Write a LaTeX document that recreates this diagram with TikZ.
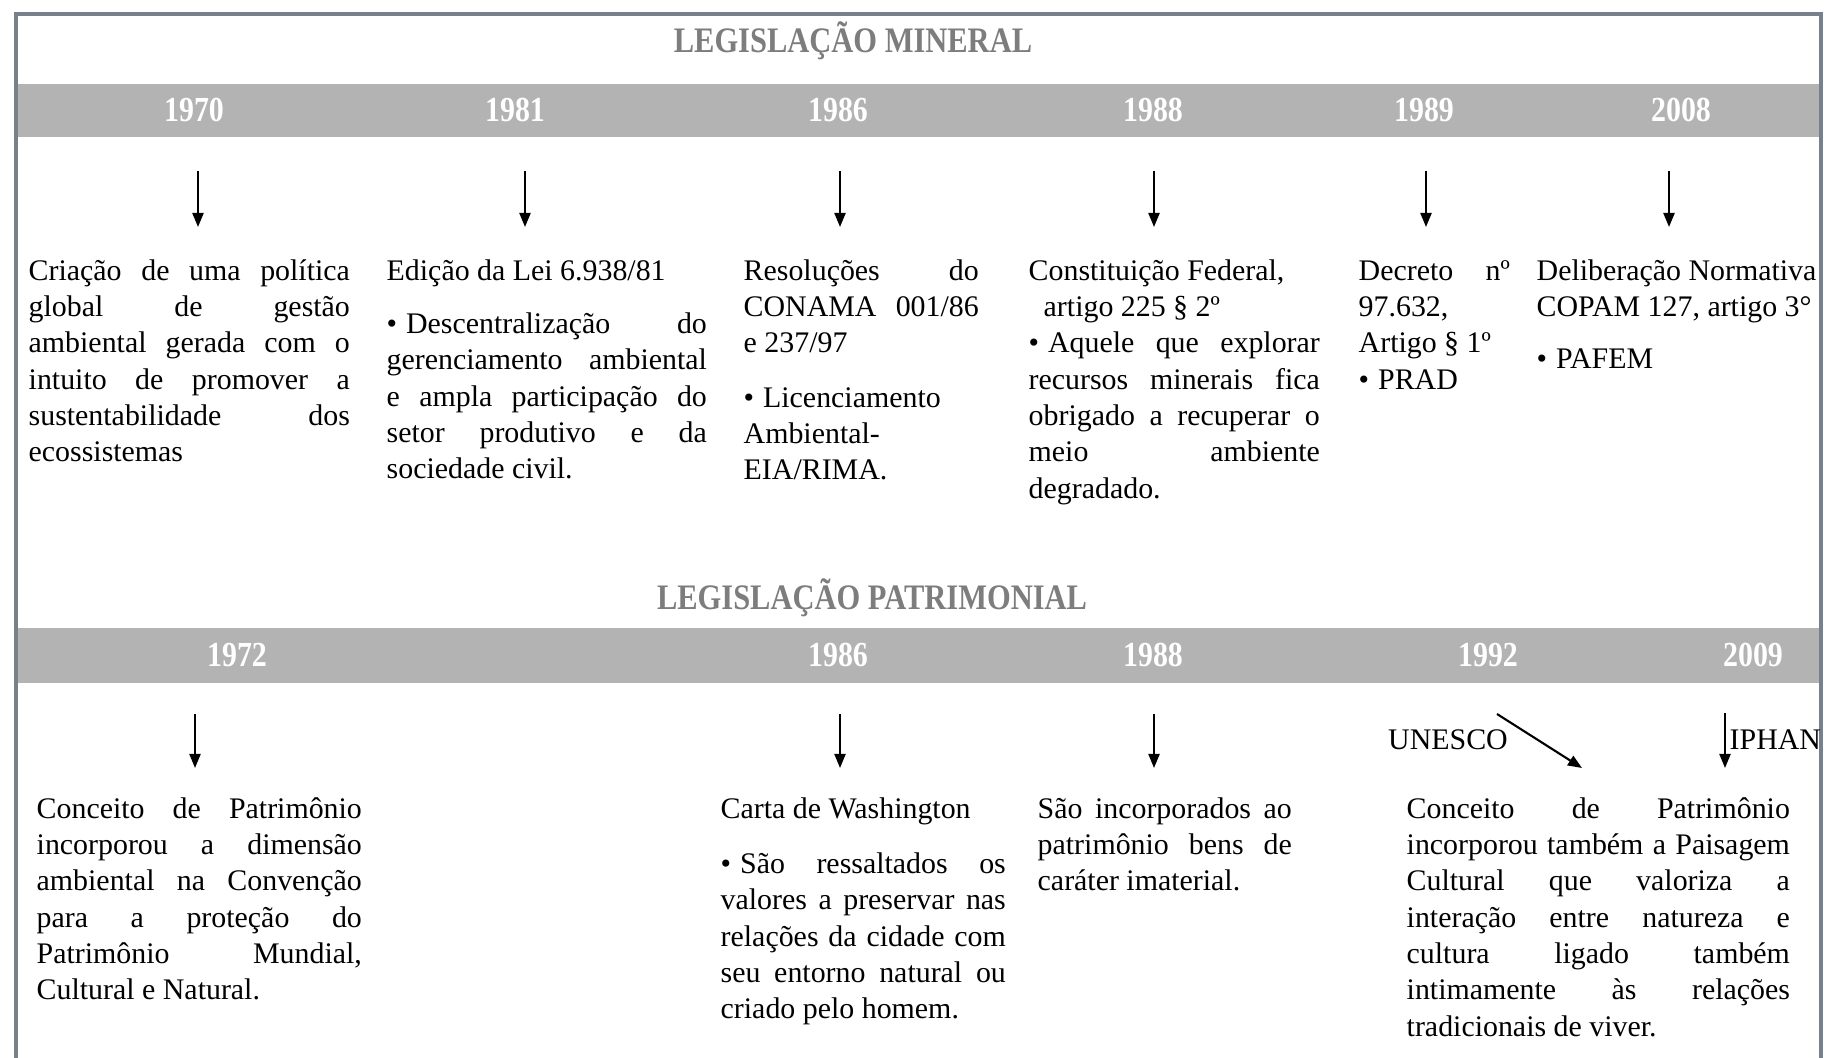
\documentclass[tikz,border=0pt]{standalone}
\usepackage{fontspec}
\setmainfont{Liberation Serif}
\newfontfamily\condfont[FakeStretch=0.85]{Liberation Serif}
\usetikzlibrary{arrows.meta}

\definecolor{bandgray}{RGB}{179,179,179}
\definecolor{titlegray}{RGB}{125,125,125}
\definecolor{framegray}{RGB}{120,128,140}

\newcommand{\bodyfont}{\fontsize{8.5}{10.33}\selectfont\parindent=0pt\tolerance=9999\hbadness=10000\relax}
\newcommand{\bul}{•\hspace{0.3em}}

\begin{document}
\begin{tikzpicture}[x=0.01cm, y=-0.01cm,
  band/.style={fill=bandgray, draw=none},
  year/.style={text=white, inner sep=0pt, font=\condfont\bfseries\fontsize{10}{12}\selectfont},
  title/.style={text=titlegray, inner sep=0pt, font=\condfont\bfseries\fontsize{10.2}{12}\selectfont},
  txt/.style={anchor=north west, inner sep=0pt, text width=#1, align=justify, font=\bodyfont},
  lbl/.style={inner sep=0pt, font=\bodyfont},
  arr/.style={-{Triangle[length=0.14cm,width=0.11cm]}, line width=0.6pt}]

  \useasboundingbox (0,0) rectangle (1824,1058);

  % bands
  \fill[band] (16,84) rectangle (1821,137);
  \fill[band] (16,628) rectangle (1821,683);
  \draw[framegray, line width=1.2pt] (16,1058) -- (16,14) -- (1821,14) -- (1821,1058);

  % mineral
  \node[title] (tmin) at (853,41) {LEGISLAÇÃO MINERAL};

  \node[year] (y70) at (194,110) {1970};
  \node[year] (y81) at (515,110) {1981};
  \node[year] (y86) at (838,110) {1986};
  \node[year] (y88) at (1153,110) {1988};
  \node[year] (y89) at (1424,110) {1989};
  \node[year] (y08) at (1681,110) {2008};

  \coordinate (s70) at (198,171);  \coordinate (e70) at (198,227);
  \coordinate (s81) at (525,171);  \coordinate (e81) at (525,227);
  \coordinate (s86) at (840,171);  \coordinate (e86) at (840,227);
  \coordinate (s88) at (1154,171); \coordinate (e88) at (1154,227);
  \coordinate (s89) at (1426,171); \coordinate (e89) at (1426,227);
  \coordinate (s08) at (1669,171); \coordinate (e08) at (1669,227);

  \draw[arr] (s70) -- (e70);
  \draw[arr] (s81) -- (e81);
  \draw[arr] (s86) -- (e86);
  \draw[arr] (s88) -- (e88);
  \draw[arr] (s89) -- (e89);
  \draw[arr] (s08) -- (e08);

  \node[txt=3.21cm] (t70) at (28,254) {\strut Criação de uma política\linebreak
    global de gestão\linebreak ambiental gerada com o\linebreak
    intuito de promover a\linebreak sustentabilidade dos\linebreak ecossistemas};

  \node[txt=3.20cm] (t81) at (386,254) {\strut Edição da Lei 6.938/81\par\vspace{0.17cm}
    \bul Descentralização do\linebreak gerenciamento ambiental\linebreak
    e ampla participação do\linebreak setor produtivo e da\linebreak sociedade civil.};

  \node[txt=2.35cm] (t86) at (743,254) {\strut Resoluções do\linebreak
    CONAMA 001/86\linebreak e 237/97\par\vspace{0.18cm}
    \bul Licenciamento\newline Ambiental-\newline EIA/RIMA.};

  \node[txt=2.91cm] (t88) at (1028,254) {\strut Constituição Federal,\newline
    \hspace*{0.15cm}artigo 225 § 2º\par
    \bul Aquele que explorar\linebreak recursos minerais fica\linebreak
    obrigado a recuperar o\linebreak meio ambiente\linebreak degradado.};

  \node[txt=1.51cm] (t89) at (1358,254) {\strut Decreto nº\linebreak
    97.632,\newline Artigo § 1º\newline \bul PRAD};

  \node[txt=2.85cm] (t08) at (1536,254) {\strut Deliberação Normativa\newline
    COPAM 127, artigo 3°\par\vspace{0.16cm} \bul PAFEM};

  % patrimonial
  \node[title] (tpat) at (872,598) {LEGISLAÇÃO PATRIMONIAL};

  \node[year] (y72) at (237,655) {1972};
  \node[year] (z86) at (838,655) {1986};
  \node[year] (z88) at (1153,655) {1988};
  \node[year] (y92) at (1488,655) {1992};
  \node[year] (y09) at (1753,655) {2009};

  \coordinate (s72) at (195,714);  \coordinate (e72) at (195,768);
  \coordinate (r86) at (840,714);  \coordinate (f86) at (840,768);
  \coordinate (r88) at (1154,714); \coordinate (f88) at (1154,768);
  \coordinate (s92) at (1497,714); \coordinate (e92) at (1582,768);
  \coordinate (s09) at (1725,713); \coordinate (e09) at (1725,768);

  \draw[arr] (s72) -- (e72);
  \draw[arr] (r86) -- (f86);
  \draw[arr] (r88) -- (f88);
  \draw[arr] (s92) -- (e92);
  \draw[arr] (s09) -- (e09);

  \node[lbl] (unesco) at (1448,740) {UNESCO};
  \node[lbl, anchor=west] (iphan) at (1729,740) {IPHAN};

  \node[txt=3.25cm] (t72) at (36,792) {\strut Conceito de Patrimônio\linebreak
    incorporou a dimensão\linebreak ambiental na Convenção\linebreak
    para a proteção do\linebreak Patrimônio Mundial,\linebreak Cultural e Natural.};

  \node[txt=2.85cm] (w86) at (720,792) {\strut Carta de Washington\par\vspace{0.19cm}
    \bul São ressaltados os\linebreak valores a preservar nas\linebreak
    relações da cidade com\linebreak seu entorno natural ou\linebreak criado pelo homem.};

  \node[txt=2.54cm] (w88) at (1037,792) {\strut São incorporados ao\linebreak
    patrimônio bens de\linebreak caráter imaterial.};

  \node[txt=3.83cm] (t92) at (1406,792) {\strut Conceito de Patrimônio\linebreak
    incorporou também a Paisagem\linebreak Cultural que valoriza a\linebreak
    interação entre natureza e\linebreak cultura ligado também\linebreak
    intimamente às relações\linebreak tradicionais de viver.};

\end{tikzpicture}
\end{document}
